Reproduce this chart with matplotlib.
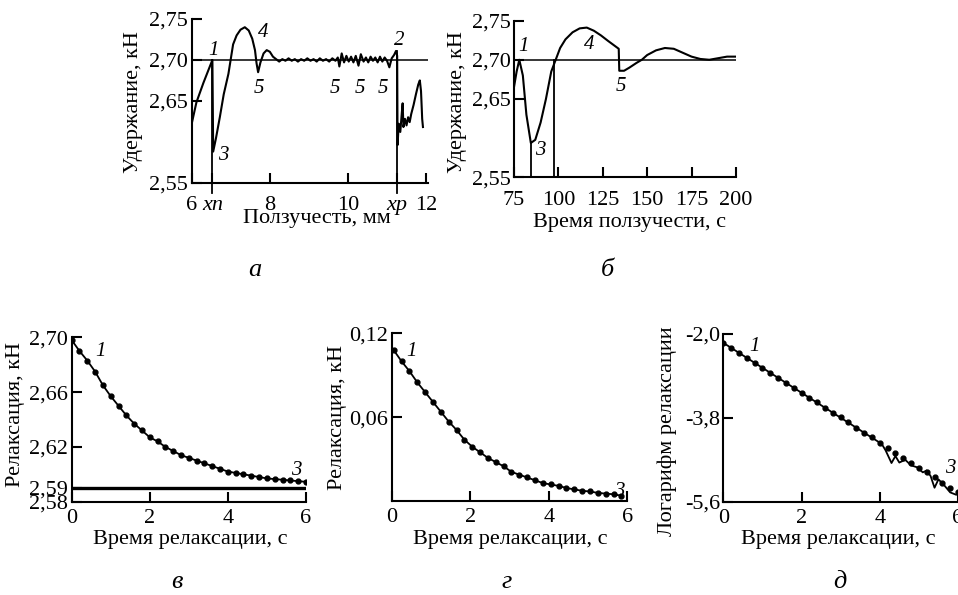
import matplotlib.pyplot as plt

plt.rcParams['font.family'] = ['Liberation Serif', 'DejaVu Serif']
plt.rcParams['font.size'] = 16

# а: удержание vs ползучесть
creep_mm = [6.00, 6.12, 6.30, 6.53, 6.55, 6.62, 6.72, 6.82, 6.94, 7.06, 7.15, 7.25, 7.36, 7.46,
            7.55, 7.62, 7.66, 7.70, 7.76, 7.84, 7.92, 8.00, 8.08, 8.16, 8.24, 8.32, 8.40, 8.48,
            8.56, 8.64, 8.72, 8.80, 8.88, 8.96, 9.04, 9.12, 9.20, 9.28, 9.36, 9.44, 9.52, 9.60,
            9.68, 9.74, 9.78, 9.84, 9.90, 9.96, 10.02, 10.08, 10.14, 10.20, 10.27, 10.33, 10.40,
            10.46, 10.52, 10.58, 10.64, 10.70, 10.76, 10.82, 10.88, 10.94, 11.00, 11.06, 11.12,
            11.18, 11.23, 11.26, 11.27, 11.30, 11.34, 11.38, 11.40, 11.42, 11.46, 11.50, 11.54,
            11.58, 11.62, 11.68, 11.74, 11.80, 11.84, 11.87, 11.89, 11.90, 11.92]
hold_a = [2.622, 2.648, 2.672, 2.700, 2.588, 2.604, 2.630, 2.658, 2.683, 2.719, 2.730, 2.737, 2.740, 2.736,
          2.726, 2.712, 2.696, 2.685, 2.697, 2.708, 2.712, 2.710, 2.704, 2.701, 2.698, 2.701, 2.699, 2.702,
          2.699, 2.701, 2.698, 2.701, 2.699, 2.702, 2.699, 2.701, 2.698, 2.702, 2.699, 2.701, 2.698, 2.702,
          2.699, 2.703, 2.692, 2.708, 2.697, 2.705, 2.698, 2.704, 2.697, 2.705, 2.693, 2.707, 2.698,
          2.703, 2.697, 2.704, 2.699, 2.703, 2.697, 2.704, 2.698, 2.703, 2.699, 2.691, 2.702,
          2.706, 2.711, 2.705, 2.596, 2.622, 2.612, 2.636, 2.647, 2.618, 2.628, 2.620, 2.630,
          2.624, 2.634, 2.645, 2.658, 2.670, 2.675, 2.662, 2.640, 2.628, 2.618]
xn, xp = 6.53, 11.26

# б: удержание vs время ползучести
creep_t = [75, 76.5, 78, 80, 82, 84.5, 87, 90, 93, 96, 98.5, 101, 104, 108, 112, 116, 120, 124,
           128, 131, 134, 134.3, 137, 140, 144, 147, 150, 155, 160, 165, 170, 175, 180, 185, 190,
           195, 200]
hold_b = [2.665, 2.685, 2.700, 2.680, 2.630, 2.594, 2.598, 2.620, 2.650, 2.685, 2.700, 2.715, 2.726,
          2.735, 2.740, 2.741, 2.737, 2.731, 2.724, 2.719, 2.714, 2.686, 2.686, 2.690, 2.696, 2.700,
          2.706, 2.712, 2.715, 2.714, 2.709, 2.704, 2.701, 2.700, 2.702, 2.704, 2.704]
t_min, t_cross = 84.5, 97.8

# в: релаксация
relax_t = [0.0, 0.2, 0.4, 0.6, 0.8, 1.0, 1.2, 1.4, 1.6, 1.8, 2.0, 2.2, 2.4, 2.6, 2.8, 3.0,
           3.2, 3.4, 3.6, 3.8, 4.0, 4.2, 4.4, 4.6, 4.8, 5.0, 5.2, 5.4, 5.6, 5.8, 6.0]
relax_v = [2.698, 2.690, 2.683, 2.675, 2.665, 2.657, 2.650, 2.643, 2.637, 2.632, 2.627, 2.624,
           2.620, 2.617, 2.614, 2.612, 2.610, 2.608, 2.606, 2.604, 2.602, 2.601, 2.600, 2.599,
           2.598, 2.597, 2.5965, 2.596, 2.5955, 2.595, 2.5945]
relax_limit = 2.59

# г: релаксация за вычетом предела
relax_t2 = [0.05, 0.25, 0.45, 0.65, 0.85, 1.05, 1.25, 1.45, 1.65, 1.85, 2.05, 2.25, 2.45, 2.65,
            2.85, 3.05, 3.25, 3.45, 3.65, 3.85, 4.05, 4.25, 4.45, 4.65, 4.85, 5.05, 5.25, 5.45,
            5.65, 5.85]
relax_g = [0.108, 0.100, 0.093, 0.085, 0.078, 0.071, 0.064, 0.057, 0.051, 0.044, 0.039, 0.035,
           0.031, 0.028, 0.025, 0.021, 0.019, 0.017, 0.015, 0.013, 0.012, 0.011, 0.0095, 0.0085,
           0.0075, 0.007, 0.006, 0.0055, 0.005, 0.004]

# д: логарифм релаксации
log_dots = [-2.19, -2.30, -2.40, -2.51, -2.62, -2.72, -2.83, -2.94, -3.05, -3.15, -3.26, -3.37,
            -3.47, -3.58, -3.69, -3.79, -3.90, -4.01, -4.12, -4.22, -4.33, -4.45, -4.55, -4.66,
            -4.76, -4.87, -4.97, -5.08, -5.19, -5.30, -5.40]
log_line_t = [0, 4.05, 4.15, 4.3, 4.4, 4.5, 4.65, 4.8, 4.95, 5.1, 5.2, 5.3, 5.4, 5.5, 5.65, 5.8, 5.95]
log_line_v = [-2.19, -4.36, -4.50, -4.77, -4.62, -4.76, -4.70, -4.82, -4.86, -4.97, -4.93, -5.05,
              -5.30, -5.12, -5.25, -5.40, -5.45]


def style(ax, xpad):
    for s in ['top', 'right']:
        ax.spines[s].set_visible(False)
    for s in ['left', 'bottom']:
        ax.spines[s].set_linewidth(1.5)
    ax.tick_params(direction='in', length=7, width=1.5)
    ax.tick_params(axis='x', pad=xpad)
    ax.tick_params(axis='y', pad=2.5)


fig = plt.figure(figsize=(9.58, 5.95), dpi=100)
ital = dict(style='italic', fontsize=15, ha='center', va='center')

# --- а ---
ax1 = fig.add_axes([0.2001, 0.693, 0.2467, 0.275])
ax1.plot(creep_mm, hold_a, color='black', lw=1.5)
ax1.plot([6, 12.05], [2.70, 2.70], color='black', lw=1.1)
ax1.plot([xn, xn], [2.70, 2.537], color='black', lw=1.3, clip_on=False)
ax1.plot([xp, xp], [2.711, 2.537], color='black', lw=1.3, clip_on=False)
ax1.set_xlim(6, 12.05)
ax1.set_ylim(2.55, 2.75)
ax1.set_yticks([2.55, 2.65, 2.70, 2.75], ['2,55', '2,65', '2,70', '2,75'])
ax1.set_xticks([6, xn, 8, 10, xp, 12], ['6', 'xn', '8', '10', 'xp', '12'])
for lab in ax1.get_xticklabels():
    if lab.get_text() in ('xn', 'xp'):
        lab.set_style('italic')
style(ax1, 9.5)
ax1.set_xlabel('Ползучесть, мм')
ax1.set_ylabel('Удержание, кН')
ax1.xaxis.set_label_coords(0.53, -0.16)
ax1.yaxis.set_label_coords(-0.208, 0.49)
ax1.text(6.55, 2.712, '1', **ital)
ax1.text(11.3, 2.724, '2', **ital)
ax1.text(6.81, 2.583, '3', **ital)
ax1.text(7.83, 2.734, '4', **ital)
for x5 in [7.73, 9.66, 10.30, 10.89]:
    ax1.text(x5, 2.665, '5', **ital)

# --- б ---
ax2 = fig.add_axes([0.5365, 0.7017, 0.2317, 0.2638])
ax2.plot(creep_t, hold_b, color='black', lw=1.5)
ax2.plot([75, 200], [2.70, 2.70], color='black', lw=1.1)
ax2.plot([t_min, t_min], [2.594, 2.55], color='black', lw=1.3)
ax2.plot([t_cross, t_cross], [2.70, 2.55], color='black', lw=1.3)
ax2.set_xlim(75, 200)
ax2.set_ylim(2.55, 2.75)
ax2.set_yticks([2.55, 2.65, 2.70, 2.75], ['2,55', '2,65', '2,70', '2,75'])
ax2.set_xticks([75, 100, 125, 150, 175, 200])
style(ax2, 9.5)
ax2.set_xlabel('Время ползучести, с')
ax2.set_ylabel('Удержание, кН')
ax2.xaxis.set_label_coords(0.52, -0.228)
ax2.yaxis.set_label_coords(-0.213, 0.48)
ax2.text(80.3, 2.717, '1', **ital)
ax2.text(90.1, 2.584, '3', **ital)
ax2.text(117.2, 2.719, '4', **ital)
ax2.text(135.0, 2.666, '5', **ital)

# --- в ---
ax3 = fig.add_axes([0.0748, 0.1568, 0.2446, 0.2763])
ax3.plot(relax_t, relax_v, color='black', lw=1.3, marker='o', ms=3.5)
ax3.plot([0, 6], [relax_limit, relax_limit], color='black', lw=2.4)
ax3.set_xlim(0, 6)
ax3.set_ylim(2.58, 2.70)
ax3.set_yticks([2.58, 2.59, 2.62, 2.66, 2.70], ['2,58', '2,59', '2,62', '2,66', '2,70'])
ax3.set_xticks([0, 2, 4, 6])
style(ax3, 5)
ax3.set_xlabel('Время релаксации, с')
ax3.set_ylabel('Релаксация, кН')
ax3.xaxis.set_label_coords(0.505, -0.172)
ax3.yaxis.set_label_coords(-0.199, 0.53)
ax3.text(0.75, 2.690, '1', **ital)
ax3.text(5.76, 2.603, '3', **ital)

# --- г ---
ax4 = fig.add_axes([0.4089, 0.1575, 0.2459, 0.2823])
ax4.plot(relax_t2, relax_g, color='black', lw=1.3, marker='o', ms=3.5)
ax4.set_xlim(0, 6)
ax4.set_ylim(0, 0.12)
ax4.set_yticks([0.06, 0.12], ['0,06', '0,12'])
ax4.set_xticks([0, 2, 4, 6])
style(ax4, 5)
ax4.set_xlabel('Время релаксации, с')
ax4.set_ylabel('Релаксация, кН')
ax4.xaxis.set_label_coords(0.505, -0.171)
ax4.yaxis.set_label_coords(-0.19, 0.50)
ax4.text(0.51, 0.107, '1', **ital)
ax4.text(5.8, 0.007, '3', **ital)

# --- д ---
ax5 = fig.add_axes([0.755, 0.1568, 0.245, 0.2819])
ax5.plot(relax_t, log_dots, color='black', lw=0, marker='o', ms=3.5)
ax5.plot(log_line_t, log_line_v, color='black', lw=1.3)
ax5.set_xlim(0, 6)
ax5.set_ylim(-5.6, -2.0)
ax5.set_yticks([-5.6, -3.8, -2.0], ['-5,6', '-3,8', '-2,0'])
ax5.set_xticks([0, 2, 4, 6])
style(ax5, 5)
ax5.set_xlabel('Время релаксации, с')
ax5.set_ylabel('Логарифм релаксации')
ax5.xaxis.set_label_coords(0.49, -0.169)
ax5.yaxis.set_label_coords(-0.198, 0.42)
ax5.text(0.81, -2.27, '1', **ital)
ax5.text(5.79, -4.89, '3', **ital)

# подписи панелей
for x, y, s in [(0.266, 0.536, 'а'), (0.634, 0.536, 'б'), (0.185, 0.012, 'в'),
                (0.529, 0.012, 'г'), (0.877, 0.012, 'д')]:
    fig.text(x, y, s, style='italic', fontsize=19, ha='center', va='baseline')

plt.savefig('out.png', dpi=100)
